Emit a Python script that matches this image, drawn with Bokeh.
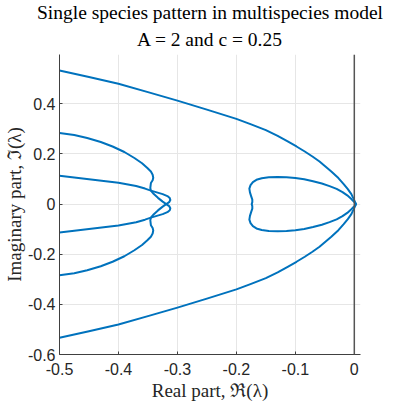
from bokeh.plotting import figure
from bokeh.models import Range1d, FixedTicker, Span, Title
from bokeh.embed import file_html
from bokeh.resources import INLINE

# ---------------- data ----------------
title_line1 = "Single species pattern in multispecies model"
title_line2 = "A = 2 and c = 0.25"
x_label = "Real part, \u211c(\u03bb)"
y_label = "Imaginary part, \u2111(\u03bb)"

x_ticks = [-0.5, -0.4, -0.3, -0.2, -0.1, 0.0]
x_tick_labels = ["-0.5", "-0.4", "-0.3", "-0.2", "-0.1", "0"]
y_ticks = [-0.6, -0.4, -0.2, 0.0, 0.2, 0.4]
y_tick_labels = ["-0.6", "-0.4", "-0.2", "0", "0.2", "0.4"]

# outer parabola-like branch (top -> tip at the origin -> bottom)
outer_re = [-0.5, -0.45, -0.4, -0.35, -0.3, -0.25, -0.2, -0.175, -0.15, -0.13,
            -0.113, -0.098, -0.084, -0.071, -0.059, -0.049, -0.039, -0.027,
            -0.018, -0.011, -0.005, -0.001, 0.003,
            -0.001, -0.005, -0.011, -0.018, -0.027, -0.039, -0.049, -0.059,
            -0.071, -0.084, -0.098, -0.113, -0.13, -0.15, -0.175, -0.2, -0.25,
            -0.3, -0.35, -0.4, -0.45, -0.5]
outer_im = [0.533, 0.507, 0.48, 0.447, 0.413, 0.377, 0.34, 0.318, 0.295, 0.272,
            0.25, 0.23, 0.21, 0.19, 0.17, 0.15, 0.13, 0.104,
            0.08, 0.06, 0.04, 0.02, 0.0,
            -0.02, -0.04, -0.06, -0.08, -0.104, -0.13, -0.15, -0.17,
            -0.19, -0.21, -0.23, -0.25, -0.272, -0.295, -0.318, -0.34, -0.377,
            -0.413, -0.447, -0.48, -0.507, -0.533]

# closed loop attached to the origin
loop_re = [0.003, 0.0, -0.005, -0.012, -0.02, -0.03, -0.042, -0.055, -0.07,
           -0.085, -0.1, -0.115, -0.13, -0.145, -0.157, -0.166, -0.172, -0.176,
           -0.178, -0.177, -0.175, -0.173, -0.173, -0.174,
           -0.173, -0.173, -0.175, -0.177, -0.178, -0.176, -0.172, -0.166,
           -0.157, -0.145, -0.13, -0.115, -0.1, -0.085, -0.07, -0.055, -0.042,
           -0.03, -0.02, -0.012, -0.005, 0.0, 0.003]
loop_im = [0.0, 0.008, 0.02, 0.035, 0.048, 0.061, 0.072, 0.082, 0.091,
           0.099, 0.104, 0.107, 0.108, 0.107, 0.103, 0.097, 0.088, 0.076,
           0.062, 0.047, 0.032, 0.018, 0.008, 0.0,
           -0.008, -0.018, -0.032, -0.047, -0.062, -0.076, -0.088, -0.097,
           -0.103, -0.107, -0.108, -0.107, -0.104, -0.099, -0.091, -0.082, -0.072,
           -0.061, -0.048, -0.035, -0.02, -0.008, 0.0]

# inner branch 1: from (-0.5, 0.113) through the knot to (-0.5, -0.284)
inner1_re = [-0.5, -0.45, -0.40, -0.37, -0.355, -0.345, -0.335, -0.325, -0.317,
             -0.313, -0.312, -0.314, -0.319, -0.325, -0.333, -0.34, -0.345,
             -0.346, -0.345, -0.342, -0.341, -0.342, -0.345, -0.351, -0.36,
             -0.373, -0.39, -0.41, -0.43, -0.453, -0.475, -0.5]
inner1_im = [0.113, 0.099, 0.085, 0.072, 0.062, 0.054, 0.047, 0.040, 0.032,
             0.024, 0.016, 0.008, 0.0, -0.010, -0.025, -0.040, -0.054,
             -0.064, -0.084, -0.095, -0.105, -0.117, -0.130, -0.144, -0.163,
             -0.184, -0.208, -0.230, -0.248, -0.264, -0.276, -0.284]

# inner branch 2: mirror partner, from (-0.5, -0.113) to (-0.5, 0.284)
inner2_re = [-0.5, -0.45, -0.40, -0.37, -0.355, -0.345, -0.335, -0.325, -0.317,
             -0.313, -0.312, -0.314, -0.319, -0.325, -0.333, -0.34, -0.345,
             -0.346, -0.345, -0.342, -0.341, -0.342, -0.345, -0.351, -0.36,
             -0.373, -0.39, -0.41, -0.43, -0.453, -0.475, -0.5]
inner2_im = [-0.113, -0.099, -0.085, -0.072, -0.062, -0.054, -0.047, -0.040, -0.032,
             -0.024, -0.016, -0.008, 0.0, 0.010, 0.025, 0.040, 0.054,
             0.064, 0.084, 0.095, 0.105, 0.117, 0.130, 0.144, 0.163,
             0.184, 0.208, 0.230, 0.248, 0.264, 0.276, 0.284]

# ---------------- styling ----------------
LINE = "#0072BD"
SERIF = "Liberation Serif"
SANS = "Liberation Sans"

p = figure(frame_width=301, frame_height=300, output_backend="svg",
           toolbar_location=None,
           x_range=Range1d(-0.5, 0.0105), y_range=Range1d(-0.6, 0.597),
           min_border_left=55, min_border_right=27, min_border_top=48,
           min_border_bottom=59)
p.outline_line_color = None
p.background_fill_color = "white"
p.border_fill_color = "white"

# titles (second line is closest to the frame)
p.add_layout(Title(text=title_line2, align="center", text_font=SERIF,
                   text_font_size="19.5px", text_font_style="normal",
                   text_color="black", standoff=9, offset=0), "above")
p.add_layout(Title(text=title_line1, align="center", text_font=SERIF,
                   text_font_size="19.5px", text_font_style="normal",
                   text_color="black", standoff=-1, offset=0), "above")

for ax in (p.xaxis[0], p.yaxis[0]):
    ax.axis_line_color = "#404040"
    ax.axis_line_width = 1
    ax.major_tick_in = 3
    ax.major_tick_out = 0
    ax.minor_tick_in = 0
    ax.minor_tick_out = 0
    ax.major_tick_line_color = "#404040"
    ax.major_label_text_font = SANS
    ax.major_label_text_font_size = "16px"
    ax.major_label_text_color = "#262626"
    ax.axis_label_text_font = SERIF
    ax.axis_label_text_font_size = "19px"
    ax.axis_label_text_font_style = "normal"
    ax.axis_label_text_color = "#262626"

p.xaxis.ticker = FixedTicker(ticks=x_ticks)
p.yaxis.ticker = FixedTicker(ticks=y_ticks)
p.xaxis.major_label_overrides = {t: s for t, s in zip(x_ticks, x_tick_labels)}
p.yaxis.major_label_overrides = {t: s for t, s in zip(y_ticks, y_tick_labels)}
p.xaxis.major_label_standoff = 8
p.yaxis.major_label_standoff = 4

p.xaxis.axis_label = x_label
p.xaxis.axis_label_standoff = 2
p.yaxis.axis_label = y_label
p.yaxis.axis_label_standoff = 0

p.xgrid.grid_line_color = "#e6e6e6"
p.ygrid.grid_line_color = "#e6e6e6"

# vertical line at Re = 0
p.add_layout(Span(location=0, dimension="height", line_color="#555555",
                  line_width=1.5))

for xs, ys in ((outer_re, outer_im), (loop_re, loop_im),
               (inner1_re, inner1_im), (inner2_re, inner2_im)):
    p.line(xs, ys, line_color=LINE, line_width=2, line_join="round")

open("out.html", "w").write(file_html(p, INLINE))
